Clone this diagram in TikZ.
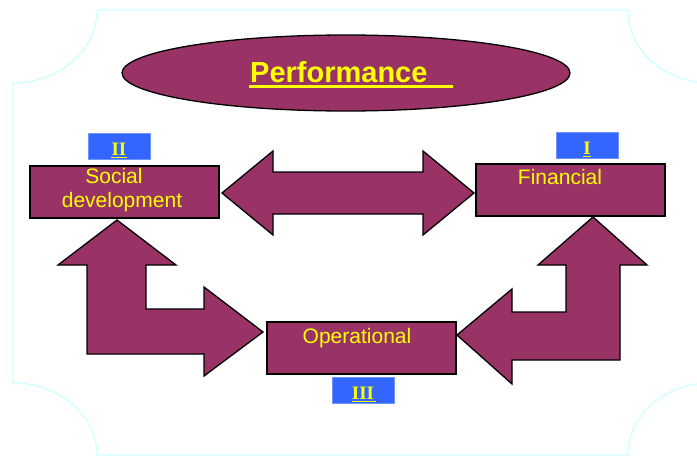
\documentclass[tikz,border=0pt]{standalone}
\usepackage{fontspec}
\setmainfont{Liberation Sans}
\newfontfamily\tnr{Liberation Serif}
\usetikzlibrary{shapes.geometric,calc}
\definecolor{maroon}{HTML}{993366}
\definecolor{ylw}{HTML}{FFFF00}
\definecolor{blu}{HTML}{3366FF}
\definecolor{frame}{HTML}{CCFFFF}
\tikzset{
  box/.style={draw=black, line width=1.3pt, fill=maroon, rectangle, inner sep=0pt},
  numbox/.style={fill=blu, draw=blu!70!white, line width=0.5pt, rectangle, inner sep=0pt, minimum width=62pt, minimum height=26pt},
  blockarrow/.style={draw=black, line width=1.3pt, fill=maroon, line join=miter},
  lbl/.style={text=ylw, font=\fontsize{21}{24}\selectfont, inner sep=0pt, align=center},
  num/.style={text=ylw, font=\tnr\bfseries\fontsize{19}{19}\selectfont, inner sep=0pt},
  uline/.style={draw=ylw, line width=1.6pt}
}
\begin{document}
\begin{tikzpicture}[x=1pt, y=-1pt]
\useasboundingbox (0,0) rectangle (697,458);
% frame
\draw[frame, line width=1.2pt]
  (97,10) -- (628,10) arc[start angle=180, end angle=90, x radius=82, y radius=73]
  -- (710,383) arc[start angle=270, end angle=180, x radius=82, y radius=72]
  -- (97,455) arc[start angle=0, end angle=-90, x radius=84, y radius=72]
  -- (13,83) arc[start angle=90, end angle=0, x radius=84, y radius=73];
% title ellipse
\node[ellipse, draw=black, line width=1.3pt, fill=maroon, minimum width=448pt, minimum height=76pt, inner sep=0pt] (perf) at (346,73) {};
\node[text=ylw, font=\bfseries\fontsize{29}{29}\selectfont, inner sep=0pt, anchor=base west] (perft) at (250,82) {Performance};
\draw[draw=ylw, line width=3pt] ($(perft.base west)+(-1,4)$) -- ($(perft.base west)+(203,4)$);
% boxes
\node[box, minimum width=189pt, minimum height=52pt] (soc) at (124.5,192) {};
\node[lbl, anchor=north] (soct) at (122,168) {Social\rule{16pt}{0pt}\\development};
\node[box, minimum width=189pt, minimum height=52pt] (fin) at (570.5,190) {};
\node[lbl] (fint) at (560,177) {Financial};
\node[box, minimum width=189pt, minimum height=52pt] (ope) at (361.5,348) {};
\node[lbl] (opet) at (357,338) {Operational};
% numeral boxes
\node[numbox] (n2) at (119,146) {};
\node[num, anchor=base] (n2t) at (119,155) {II};
\draw[uline] ($(n2t.base west)+(0,2.5)$) -- ($(n2t.base east)+(0,2.5)$);
\node[numbox] (n1) at (587,145) {};
\node[num, anchor=base] (n1t) at (587,154) {I};
\draw[uline] ($(n1t.base west)+(0,2.5)$) -- ($(n1t.base east)+(0,2.5)$);
\node[numbox] (n3) at (363,390) {};
\node[num, anchor=base] (n3t) at (363,399) {III};
\draw[uline] ($(n3t.base west)+(0,2.5)$) -- ($(n3t.base east)+(2,2.5)$);
% double horizontal arrow
\draw[blockarrow] (222,193) -- (273,151) -- (273,172) -- (423,172) -- (423,151) -- (474,193)
  -- (423,235) -- (423,214) -- (273,214) -- (273,235) -- cycle;
% left bent arrow
\draw[blockarrow] (117,220) -- (176,265) -- (146,265) -- (146,309) -- (204,309) -- (204,287)
  -- (263,332) -- (204,376) -- (204,354) -- (87,354) -- (87,265) -- (58,265) -- cycle;
% right bent arrow
\draw[blockarrow] (593,217) -- (647,265) -- (620,265) -- (620,360) -- (512,360) -- (512,384)
  -- (457,335) -- (512,289) -- (512,312) -- (566,312) -- (566,265) -- (538,265) -- cycle;
\end{tikzpicture}
\end{document}
